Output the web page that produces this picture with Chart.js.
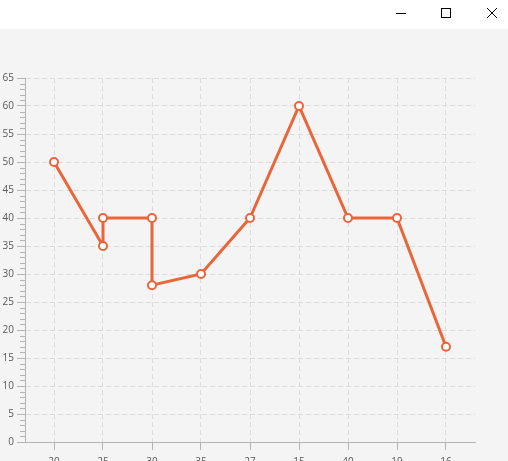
<!DOCTYPE html>
<html>
<head>
<meta charset="utf-8">
<script src="https://cdn.jsdelivr.net/npm/chart.js@4/dist/chart.umd.min.js"></script>
<style>
  html, body { margin:0; padding:0; width:508px; height:461px; overflow:hidden; background:#f4f4f4; }
  #titlebar { position:absolute; left:0; top:0; width:508px; height:29px; background:#ffffff; }
  #wrap { position:absolute; left:0; top:29px; width:508px; height:443px; }
</style>
</head>
<body>
<div id="titlebar">
  <svg width="508" height="29" xmlns="http://www.w3.org/2000/svg">
    <line x1="396" y1="13.5" x2="406" y2="13.5" stroke="#000" stroke-width="1"/>
    <rect x="441.5" y="8.5" width="9" height="9" fill="none" stroke="#000" stroke-width="1"/>
    <line x1="487" y1="8" x2="497" y2="18" stroke="#000" stroke-width="1"/>
    <line x1="497" y1="8" x2="487" y2="18" stroke="#000" stroke-width="1"/>
  </svg>
</div>
<div id="wrap"><canvas id="c" width="508" height="443"></canvas></div>
<script>
// ---- data ----
const categories = ['20', '25', '30', '35', '27', '15', '40', '19', '16'];
const pointCategories = ['20', '25', '25', '30', '30', '35', '27', '15', '40', '19', '16'];
const values = [50, 35, 40, 40, 28, 30, 40, 60, 40, 40, 17];
const yTicks = { min: 0, max: 65, step: 5, minorPerMajor: 5 };

const lineColor = '#e9653a';
const axisColor = '#b4b4b4';
const gridColor = '#dcdcdc';
const labelColor = '#595959';
const font = { family: "'Open Sans', 'Noto Sans', sans-serif", size: 10 };

const points = pointCategories.map((c, i) => ({ x: categories.indexOf(c), y: values[i] }));

const minorTicks = {
  id: 'minorTicks',
  afterDraw(chart) {
    const y = chart.scales.y;
    const ctx = chart.ctx;
    const step = yTicks.step / yTicks.minorPerMajor;
    ctx.save();
    ctx.strokeStyle = axisColor;
    ctx.lineWidth = 1;
    ctx.beginPath();
    for (let v = yTicks.min; v <= yTicks.max + 1e-9; v += step) {
      if (Math.abs(v / yTicks.step - Math.round(v / yTicks.step)) < 1e-6) continue;
      const py = Math.round(y.getPixelForValue(v)) + 0.5;
      ctx.moveTo(y.right - 5, py);
      ctx.lineTo(y.right, py);
    }
    ctx.stroke();
    ctx.restore();
  }
};

const pad = 29 / 49;
new Chart(document.getElementById('c'), {
  type: 'line',
  data: {
    datasets: [{
      data: points,
      borderColor: lineColor,
      borderWidth: 3,
      backgroundColor: '#ffffff',
      pointBackgroundColor: '#ffffff',
      pointBorderColor: lineColor,
      pointBorderWidth: 2,
      pointRadius: 4,
      tension: 0,
      fill: false
    }]
  },
  options: {
    responsive: false,
    animation: false,
    devicePixelRatio: 1,
    layout: { padding: { top: 49, right: 33, left: 0, bottom: 0 } },
    plugins: { legend: { display: false }, tooltip: { enabled: false } },
    scales: {
      x: {
        type: 'linear',
        min: -pad,
        max: categories.length - 1 + pad,
        afterBuildTicks: s => { s.ticks = categories.map((c, i) => ({ value: i })); },
        afterFit: s => { s.height = 30; },
        ticks: {
          autoSkip: false, maxRotation: 0, minRotation: 0, padding: 6,
          color: labelColor, font: font,
          callback: v => categories[v]
        },
        grid: { color: gridColor, tickColor: axisColor, tickLength: 8, lineWidth: 1 },
        border: { color: axisColor, width: 1, dash: [5, 3] }
      },
      y: {
        min: yTicks.min,
        max: yTicks.max,
        afterFit: s => { s.width = 25; },
        ticks: { stepSize: yTicks.step, padding: 3, color: labelColor, font: font },
        grid: { color: gridColor, tickColor: axisColor, tickLength: 8, lineWidth: 1 },
        border: { color: axisColor, width: 1, dash: [5, 3] }
      }
    }
  },
  plugins: [minorTicks]
});
</script>
</body>
</html>
